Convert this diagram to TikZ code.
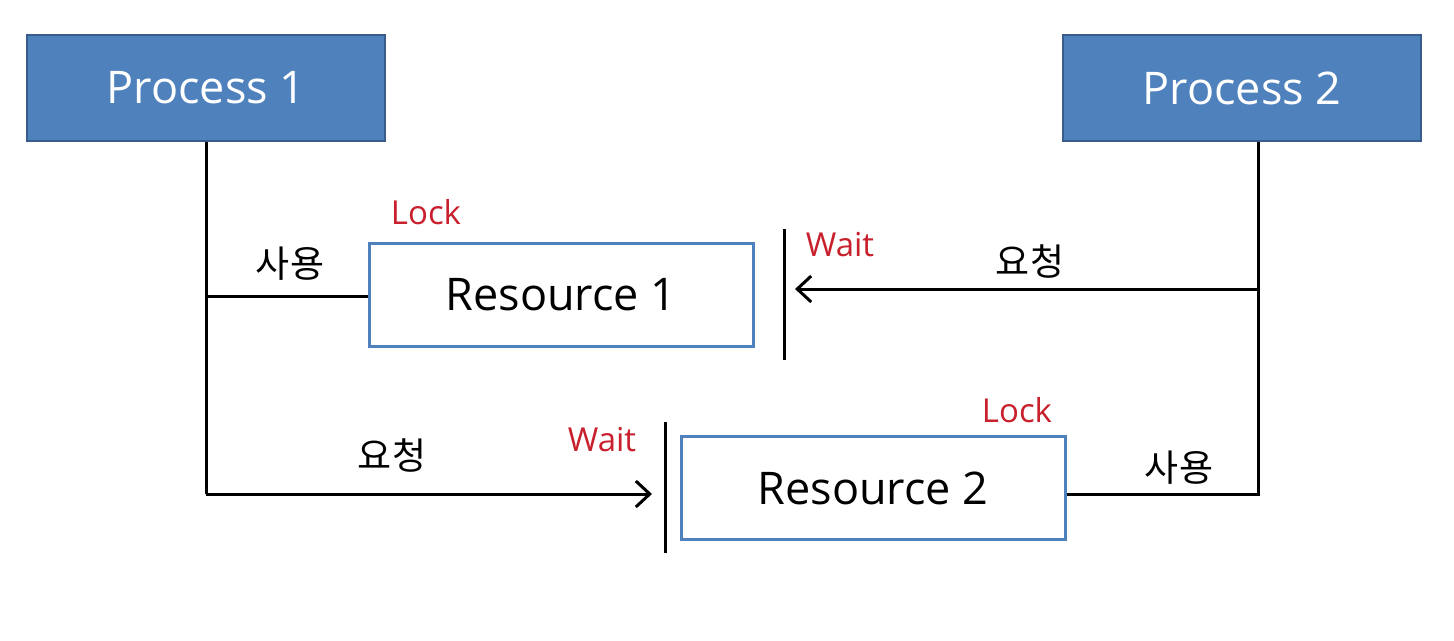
\documentclass[tikz,border=0pt]{standalone}
\usepackage{fontspec}
\setmainfont{Open Sans}
\newfontfamily\kr{Noto Sans CJK KR}
\usetikzlibrary{arrows.meta}
\definecolor{procfill}{RGB}{79,129,189}
\definecolor{procedge}{RGB}{56,93,138}
\definecolor{lockred}{RGB}{200,32,44}
\begin{document}
\begin{tikzpicture}[x=1pt,y=-1pt,
  process/.style={draw=procedge,line width=2pt,fill=procfill,text=white,
    minimum width=358pt,minimum height=106pt,inner sep=0pt,
    font=\fontsize{45}{54}\selectfont},
  resource/.style={draw=procfill,line width=3pt,fill=white,
    minimum width=384pt,minimum height=103pt,inner sep=0pt,
    font=\fontsize{45}{54}\selectfont},
  conn/.style={line width=3pt,black},
  req/.style={conn,-{Straight Barb[length=14pt,width=26pt,line width=3pt]}},
  waitbar/.style={line width=3pt,black},
  redlbl/.style={text=lockred,inner sep=0pt,font=\fontsize{33}{40}\selectfont},
  krlbl/.style={inner sep=0pt,font=\kr\fontsize{37}{44}\selectfont}]
\useasboundingbox (0,0) rectangle (1454,640);
\fill[white] (0,0) rectangle (1454,640);

\node[process] (p1) at (206,88) {Process 1};
\node[process] (p2) at (1242,88) {Process 2};
\node[resource] (r1) at (561,295) {Resource 1};
\node[resource] (r2) at (873,488) {Resource 2};

% junctions and bars
\coordinate (j1) at (206,296);
\coordinate (c1) at (206,494);
\coordinate (a1) at (652,494);
\coordinate (j2) at (1258,289);
\coordinate (c2) at (1258,494);
\coordinate (a2) at (795,289);
\coordinate (w1t) at (784,229);
\coordinate (w1b) at (784,360);
\coordinate (w2t) at (665,422);
\coordinate (w2b) at (665,553);

\draw[conn] (p1.south -| j1) -- (c1);
\draw[conn] (j1) -- (r1.west |- j1);
\draw[req] (c1) -- (a1);
\draw[conn] (p2.south -| c2) -- (c2) -- (r2.east |- c2);
\draw[req] (j2) -- (a2);
\draw[waitbar] (w1t) -- (w1b);
\draw[waitbar] (w2t) -- (w2b);

% labels
\node[redlbl] (lock1) at (426,212.5) {Lock};
\node[redlbl] (wait1) at (840,245) {Wait};
\node[redlbl] (lock2) at (1017,410) {Lock};
\node[redlbl] (wait2) at (602,440) {Wait};
\node[krlbl] (use1) at (290,264) {사용};
\node[krlbl] (req1) at (1030,262) {요청};
\node[krlbl] (req2) at (392,456) {요청};
\node[krlbl] (use2) at (1179,468) {사용};
\end{tikzpicture}
\end{document}
